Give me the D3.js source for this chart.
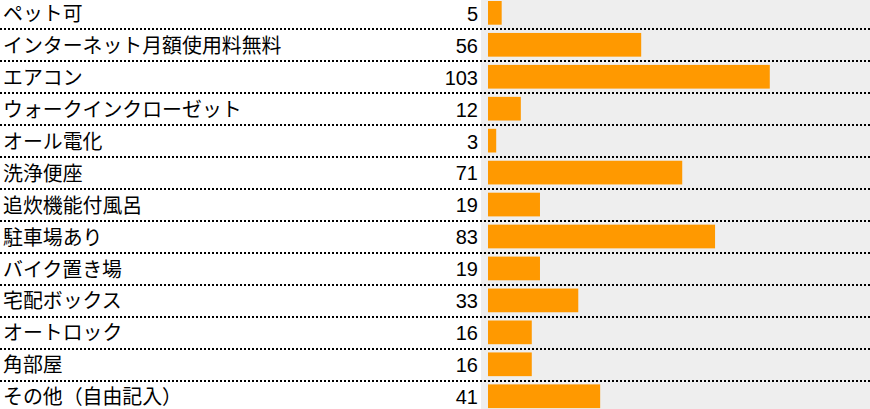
<!DOCTYPE html>
<html><head><meta charset="utf-8">
<script src="https://cdn.jsdelivr.net/npm/d3@7"></script>
<style>html,body{margin:0;padding:0;background:#fff;overflow:hidden}</style>
</head><body>
<svg id="chart" width="870" height="409"></svg>
<script>
const categories = ["ペット可","インターネット月額使用料無料","エアコン","ウォークインクローゼット","オール電化","洗浄便座","追炊機能付風呂","駐車場あり","バイク置き場","宅配ボックス","オートロック","角部屋","その他（自由記入）"];
const counts = [5,56,103,12,3,71,19,83,19,33,16,16,41];

const W = 870, H = 409;
const svg = d3.select("#chart");
const y = d3.scaleBand().domain(categories).range([-2.7, -2.7 + 13 * 31.95]).padding(0);
const x = d3.scaleLinear().domain([0, 140]).range([488, 871]);

svg.append("rect").attr("x", 481).attr("y", 0).attr("width", W - 481).attr("height", H).attr("fill", "#eeeeee");

svg.selectAll("rect.bar").data(categories).join("rect").attr("class","bar")
  .attr("x", x(0))
  .attr("y", c => y(c) + 3.7)
  .attr("height", 23.7)
  .attr("width", (c,i) => x(counts[i]) - x(0))
  .attr("fill", "#ff9900");

svg.selectAll("line.sep").data(categories.slice(0, -1)).join("line").attr("class","sep")
  .attr("x1", 0).attr("x2", W)
  .attr("y1", c => Math.round(y(c) + y.bandwidth())).attr("y2", c => Math.round(y(c) + y.bandwidth()))
  .attr("stroke", "#000").attr("stroke-width", 2).attr("stroke-dasharray", "2,2");

svg.selectAll("text.lab").data(categories).join("text").attr("class","lab")
  .attr("x", 3).attr("y", c => y(c) + 23.6)
  .attr("font-family", "'Noto Sans CJK JP', sans-serif").attr("font-size", 19.9)
  .attr("fill", "#000").text(c => c);

svg.selectAll("text.val").data(categories).join("text").attr("class","val")
  .attr("x", 478).attr("y", c => y(c) + 23.4)
  .attr("text-anchor", "end")
  .attr("font-family", "'Liberation Sans', Arial, sans-serif").attr("font-size", 20)
  .attr("fill", "#000").text((c,i) => counts[i]);
</script>
</body></html>
